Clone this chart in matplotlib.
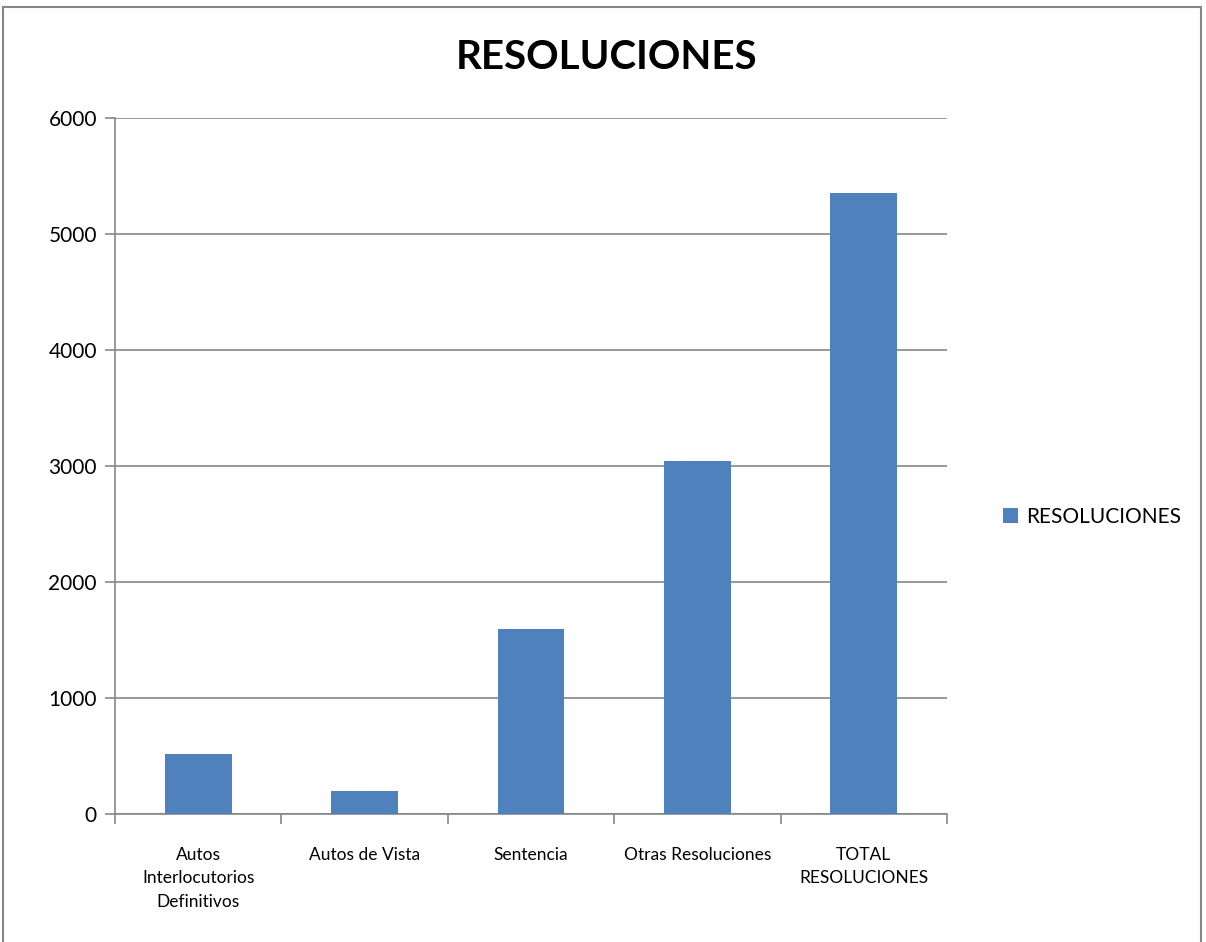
import matplotlib.pyplot as plt
import matplotlib.patches as patches
import numpy as np

categories = ["Autos\nInterlocutorios\nDefinitivos", "Autos de Vista", "Sentencia",
              "Otras Resoluciones", "TOTAL\nRESOLUCIONES"]
values = [520, 195, 1595, 3040, 5350]
series_name = "RESOLUCIONES"

plt.rcParams['font.family'] = ['Lato', 'DejaVu Sans']

fig = plt.figure(figsize=(12.06, 9.42), dpi=100)
ax = fig.add_axes([0.0954, 0.1359, 0.6898, 0.7388])

x = np.arange(len(categories))
ax.bar(x, values, width=0.4, color="#4F81BD", label=series_name, zorder=3)

ax.set_xlim(-0.5, len(categories) - 0.5)
ax.set_ylim(0, 6000)
ax.set_yticks(np.arange(0, 6001, 1000))
ax.yaxis.grid(True, color="#868686", linewidth=1.2, zorder=0)

# x ticks at category boundaries, labels centered under bars
ax.set_xticks(np.arange(-0.5, len(categories), 1))
ax.set_xticklabels([])
ax.set_xticks(x, minor=True)
ax.set_xticklabels(categories, minor=True, fontsize=12.5, linespacing=1.55)
ax.tick_params(axis='x', which='minor', length=0, pad=24)
ax.tick_params(axis='x', which='major', length=7, color="#868686", width=1.2)
ax.tick_params(axis='y', length=7, color="#868686", width=1.2, labelsize=15, pad=6)

for s in ["top", "right"]:
    ax.spines[s].set_visible(False)
for s in ["left", "bottom"]:
    ax.spines[s].set_color("#868686")
    ax.spines[s].set_linewidth(1.2)

fig.text(0.503, 0.939, "RESOLUCIONES", ha="center", va="center",
         fontsize=29, fontweight="bold")

leg = ax.legend(loc="center left", bbox_to_anchor=(1.045, 0.427), frameon=False,
                fontsize=15, handlelength=0.7, handleheight=0.7, handletextpad=0.4)

# chart frame
fig.patches.append(patches.Rectangle((3 / 1206, -0.05), 1198 / 1206, 0.05 + 935 / 942,
                                     transform=fig.transFigure, fill=False,
                                     edgecolor="#868686", linewidth=1.5))

fig.savefig("out.png", dpi=100)
